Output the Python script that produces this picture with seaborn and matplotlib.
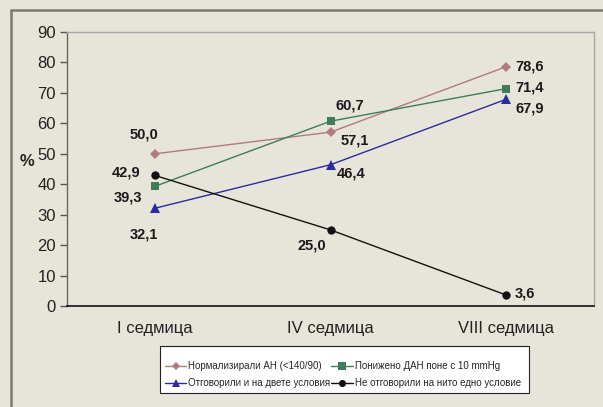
import matplotlib
matplotlib.use("Agg")
import matplotlib.pyplot as plt
import seaborn as sns
import pandas as pd
from matplotlib.lines import Line2D
from matplotlib.patches import Rectangle

weeks = ["I седмица", "IV седмица", "VIII седмица"]
series_names = [
    "Нормализирали АН (<140/90)",
    "Понижено ДАН поне с 10 mmHg",
    "Отговорили и на двете условия",
    "Не отговорили на нито едно условие",
]
normalized = [50.0, 57.1, 78.6]
lowered = [39.3, 60.7, 71.4]
both = [32.1, 46.4, 67.9]
neither = [42.9, 25.0, 3.6]
y_ticks = [0, 10, 20, 30, 40, 50, 60, 70, 80, 90]

values = [normalized, lowered, both, neither]

# styling
bg = "#E7E5DA"
colors = ["#B07A80", "#3E7D5C", "#2B2B9E", "#111111"]
markers = ["D", "s", "^", "o"]
msizes = [5, 6, 7, 6]
# label offsets in pixels (dx, dy, ha)
offsets = [
    [(-11, 19, "center"), (24, -8, "center"), (9, 0, "left")],
    [(-27, -11, "center"), (19, 16, "center"), (9, 1, "left")],
    [(-11, -26, "center"), (21, -9, "center"), (9, -9, "left")],
    [(-14, 3, "right"), (-19, -16, "center"), (9, 2, "left")],
]

sns.set_theme(style="white")
plt.rcParams["font.family"] = ["Liberation Sans", "DejaVu Sans"]

rows = []
for name, vals in zip(series_names, values):
    for w, v in zip(weeks, vals):
        rows.append({"week": w, "value": v, "series": name})
df = pd.DataFrame(rows)

fig = plt.figure(figsize=(6.03, 4.07), dpi=100, facecolor=bg)
ax = fig.add_axes([67 / 603, 101 / 407, (594 - 67) / 603, (306 - 32) / 407])
ax.set_facecolor(bg)

sns.lineplot(
    data=df, x="week", y="value", hue="series", style="series",
    hue_order=series_names, style_order=series_names,
    palette=dict(zip(series_names, colors)),
    markers=dict(zip(series_names, markers)),
    dashes=False, sort=False, ax=ax, legend=False, linewidth=1,
    markeredgewidth=0,
)
for line, ms in zip(ax.lines, msizes):
    line.set_markersize(ms)

for vals, offs, c in zip(values, offsets, colors):
    for i, (v, (dx, dy, ha)) in enumerate(zip(vals, offs)):
        ax.annotate(f"{v:.1f}".replace(".", ","), (i, v), xytext=(dx, dy),
                    textcoords="offset pixels", ha=ha, va="center",
                    fontsize=10.5, fontweight="bold", color="#1a1a1a")

ax.set_xlim(-0.5, 2.5)
ax.set_ylim(0, 90)
ax.set_yticks(y_ticks)
ax.set_yticklabels([str(t) for t in y_ticks], fontsize=12, color="#222222")
ax.set_xticks([0, 1, 2])
ax.set_xticklabels(weeks, fontsize=12, color="#222222")
ax.tick_params(axis="x", length=0, pad=11)
ax.set_xticks([0.5, 1.5, 2.5], minor=True)
ax.tick_params(axis="x", which="minor", length=5, direction="out", color="#333333", width=1)
ax.tick_params(axis="y", length=5, direction="out", color="#555555", width=1, pad=3, left=True)
ax.set_xlabel("")
ax.set_ylabel("%", rotation=0, fontsize=12, fontweight="bold", labelpad=14, color="#222222")
ax.yaxis.set_label_coords(-0.075, 0.5)

for s in ["top", "right"]:
    ax.spines[s].set_color("#A8A8A8")
    ax.spines[s].set_linewidth(1)
ax.spines["left"].set_color("#666666")
ax.spines["left"].set_linewidth(1)
ax.spines["bottom"].set_color("#111111")
ax.spines["bottom"].set_linewidth(1.2)

# legend: box drawn separately, entries row-wise
fig.add_artist(Rectangle((160 / 603, 1 - 393 / 407), (529 - 160) / 603, 47 / 407,
                         transform=fig.transFigure, facecolor="white",
                         edgecolor="#222222", lw=0.8, zorder=1))
handles = [Line2D([0], [0], color=c, marker=m, markersize=ms * 0.85, lw=1, markeredgewidth=0)
           for c, m, ms in zip(colors, markers, msizes)]
order = [0, 2, 1, 3]
leg = fig.legend([handles[i] for i in order], [series_names[i] for i in order],
                 ncol=2, loc="upper left",
                 bbox_to_anchor=(165 / 603, 1 - 361 / 407), fontsize=7,
                 frameon=False, borderpad=0, borderaxespad=0,
                 handlelength=2.2, handletextpad=0.2, columnspacing=0.1,
                 labelspacing=0.75)
leg.set_zorder(2)

# outer frame lines
fig.add_artist(Line2D([11 / 603, 11 / 603], [0, 1 - 10 / 407], color="#7A7A70", lw=1.8,
                      transform=fig.transFigure))
fig.add_artist(Line2D([11 / 603, 1], [1 - 10 / 407, 1 - 10 / 407], color="#7A7A70", lw=1.8,
                      transform=fig.transFigure))

fig.savefig("out.png", dpi=100, facecolor=bg)
